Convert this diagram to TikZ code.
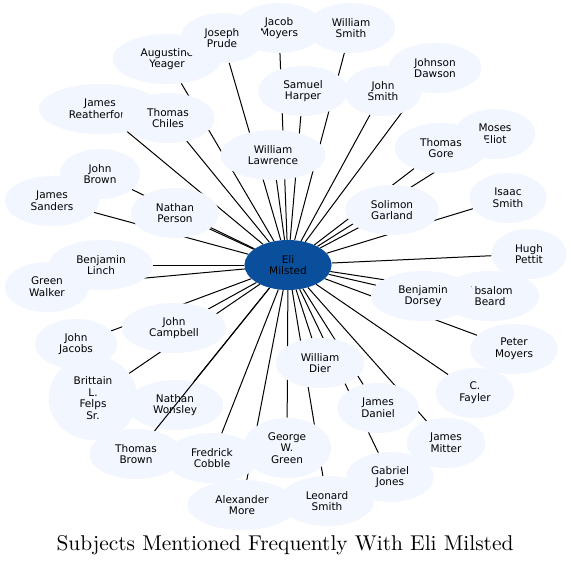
\documentclass[tikz,border=0pt]{standalone}
\usepackage{fontspec}
\newfontfamily\nodefont{DejaVu Sans}
\newfontfamily\titlefont{lmroman10-regular}[Extension=.otf]
\usetikzlibrary{shapes.geometric}
\pgfdeclarelayer{background}
\pgfsetlayers{background,main}
\definecolor{nodefill}{RGB}{242,246,254}
\definecolor{elifill}{RGB}{10,79,155}
\tikzset{
  person/.style={ellipse, fill=nodefill, draw=none, align=center,
    inner xsep=12pt, inner ysep=5.5pt, minimum width=75pt, minimum height=50pt,
    font={\nodefont\fontsize{10.5}{11.8}\selectfont}, text=black},
  hub/.style={person, fill=elifill},
  link/.style={line width=1pt, black},
  titletext/.style={font={\titlefont\fontsize{21.4}{25}\selectfont}, inner sep=0pt}
}
\begin{document}
\begin{tikzpicture}[x=1pt, y=-1pt]
\useasboundingbox (0,0) rectangle (571,566);
% nodes
\node[hub] (eli) at (288,265) {Eli\\Milsted};
\node[person] (ay) at (167,59) {Augustine\\Yeager};
\node[person] (jm) at (279,28) {Jacob\\Moyers};
\node[person] (ws) at (351,28) {William\\Smith};
\node[person] (jp) at (222,38) {Joseph\\Prude};
\node[person] (jd) at (435,68) {Johnson\\Dawson};
\node[person] (sh) at (303,91) {Samuel\\Harper};
\node[person] (js) at (383,91) {John\\Smith};
\node[person] (jr) at (100,109) {James\\Reatherford};
\node[person] (tc) at (168,118) {Thomas\\Chiles};
\node[person] (wl) at (273,155) {William\\Lawrence};
\node[person] (me) at (495,134) {Moses\\Eliot};
\node[person] (tg) at (441,148) {Thomas\\Gore};
\node[person] (jb) at (100,174) {John\\Brown};
\node[person] (jsa) at (52,201) {James\\Sanders};
\node[person] (np) at (175,213) {Nathan\\Person};
\node[person] (is) at (508,198) {Isaac\\Smith};
\node[person] (sg) at (392,210) {Solimon\\Garland};
\node[person] (bl) at (101,265) {Benjamin\\Linch};
\node[person] (hp) at (529,254) {Hugh\\Pettit};
\node[person] (gw) at (47,287) {Green\\Walker};
\node[person] (ab) at (490,296) {Absalom\\Beard};
\node[person] (bd) at (423,296) {Benjamin\\Dorsey};
\node[person] (jc) at (174,328) {John\\Campbell};
\node[person] (jj) at (76,344) {John\\Jacobs};
\node[person] (pm) at (514,349) {Peter\\Moyers};
\node[person] (wd) at (320,363) {William\\Dier};
\node[person, minimum height=84pt] (bf) at (93,398) {Brittain\\L.\\Felps\\Sr.};
\node[person] (nw) at (175,405) {Nathan\\Wonsley};
\node[person] (cf) at (475,393) {C.\\Fayler};
\node[person] (jda) at (378,408) {James\\Daniel};
\node[person] (gg) at (287,448) {George\\W.\\Green};
\node[person] (tb) at (136,454) {Thomas\\Brown};
\node[person] (fc) at (212,458) {Fredrick\\Cobble};
\node[person] (jmi) at (446,443) {James\\Mitter};
\node[person] (gj) at (390,477) {Gabriel\\Jones};
\node[person] (am) at (242,505) {Alexander\\More};
\node[person] (ls) at (327,501) {Leonard\\Smith};
% edges below the nodes
\begin{pgfonlayer}{background}
\fill[white] (0,0) rectangle (571,566);
\foreach \n in {ay,jm,ws,jp,jd,sh,js,jr,tc,wl,me,tg,jb,jsa,np,is,sg,bl,hp,gw,ab,bd,jc,jj,pm,wd,bf,nw,cf,jda,gg,fc,jmi,gj,am,ls}
  \draw[link] (eli) -- (\n);
\end{pgfonlayer}
% this edge runs over Nathan Wonsley
\draw[link] (eli) -- (tb);
% title
\node[titletext] (title) at (285,545) {Subjects Mentioned Frequently With Eli Milsted};
\end{tikzpicture}
\end{document}
